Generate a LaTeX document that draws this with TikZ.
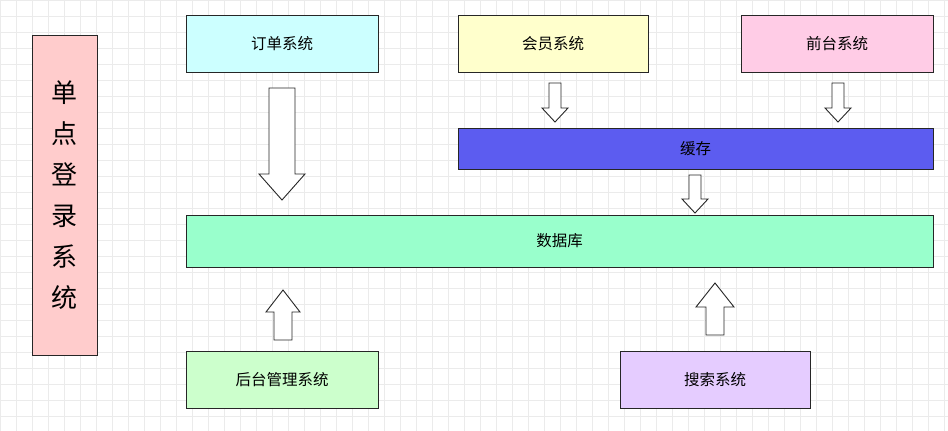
\documentclass[tikz,border=0pt]{standalone}
\usepackage{fontspec}
\setmainfont{Noto Sans CJK SC}
\begin{document}
\begin{tikzpicture}[x=1pt,y=-1pt,
 box/.style={draw=black!85,line width=0.9pt,inner sep=0pt,font=\fontsize{15.5}{18}\selectfont},
 barr/.style={draw=black!85,fill=white,line width=0.9pt,line join=miter}]
% \darr{x}{ytop}{ybottom}{shaft half}{head half}{head length}
\newcommand\mydarr[6]{\draw[barr] (#1-#4,#2) -- (#1+#4,#2) -- (#1+#4,#3-#6) -- (#1+#5,#3-#6) -- (#1,#3) -- (#1-#5,#3-#6) -- (#1-#4,#3-#6) -- cycle;}
\newcommand\myuarr[6]{\draw[barr] (#1-#4,#3) -- (#1+#4,#3) -- (#1+#4,#2+#6) -- (#1+#5,#2+#6) -- (#1,#2) -- (#1-#5,#2+#6) -- (#1-#4,#2+#6) -- cycle;}
\useasboundingbox (0,0) rectangle (948,431);
\fill[white] (0,0) rectangle (948,431);
\draw[black!8,line width=0.5pt,step=16pt] (0,0) grid (948,431);
\node[box,fill={rgb,255:red,255;green,204;blue,204},minimum width=65pt,minimum height=320pt,font=\fontsize{26}{41}\selectfont,align=center] (sso) at (64.5,195) {单\\点\\登\\录\\系\\统};
\node[box,fill={rgb,255:red,204;green,255;blue,255},minimum width=192pt,minimum height=57pt] (dd) at (282,43.5) {订单系统};
\node[box,fill={rgb,255:red,255;green,255;blue,204},minimum width=190pt,minimum height=57pt] (hy) at (553,43.5) {会员系统};
\node[box,fill={rgb,255:red,255;green,204;blue,230},minimum width=192pt,minimum height=57pt] (qt) at (837,43.5) {前台系统};
\node[box,fill={rgb,255:red,92;green,92;blue,240},minimum width=475pt,minimum height=41pt] (hc) at (695.5,148.5) {缓存};
\node[box,fill={rgb,255:red,153;green,255;blue,204},minimum width=747pt,minimum height=52pt] (db) at (559.5,241) {数据库};
\node[box,fill={rgb,255:red,204;green,255;blue,204},minimum width=192pt,minimum height=57pt] (ht) at (282,379.5) {后台管理系统};
\node[box,fill={rgb,255:red,229;green,204;blue,255},minimum width=190pt,minimum height=57pt] (ss) at (715,379.5) {搜索系统};
\mydarr{282}{88}{200}{13}{23}{26}
\mydarr{555}{83}{122}{6}{13}{14}
\mydarr{838}{83}{122}{6}{13}{14}
\mydarr{695}{175}{213}{6}{13}{14}
\myuarr{283}{290}{340}{9}{17}{22}
\myuarr{715}{283}{335}{9}{19}{24}
\end{tikzpicture}
\end{document}
